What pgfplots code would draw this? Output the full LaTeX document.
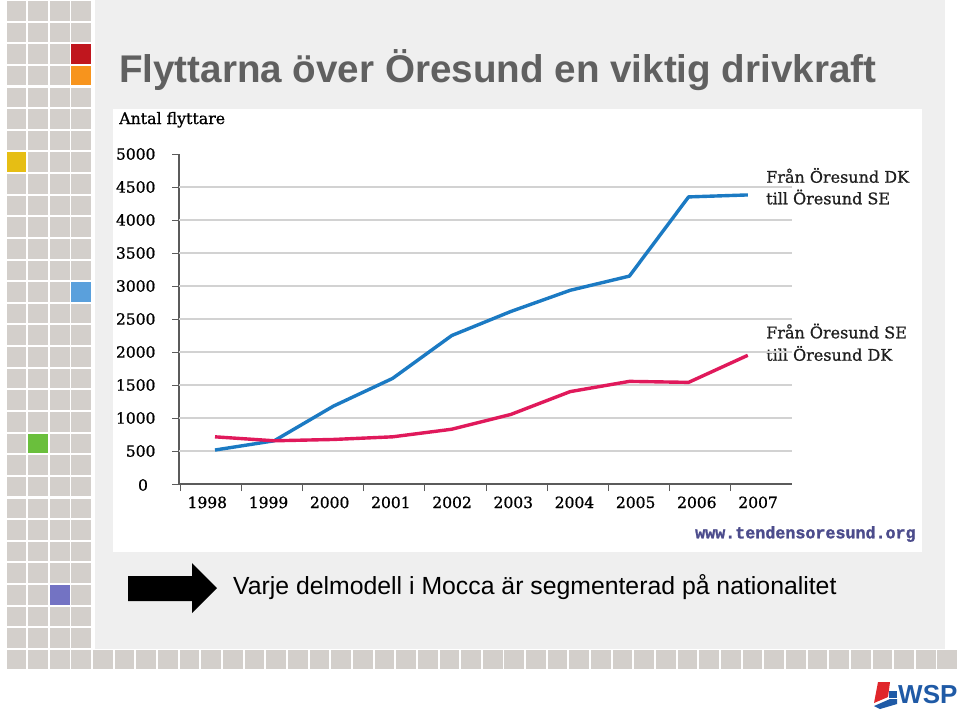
\documentclass[border=0pt]{standalone}
\usepackage{pgfplots}
\pgfplotsset{compat=1.18}
\usepackage{fontspec}
\setmainfont{DejaVu Serif}[FakeBold=0.9]
\newfontfamily\sansf{Liberation Sans}
\newfontfamily\monof{Liberation Mono}[FakeBold=1.6]
\definecolor{axisgray}{HTML}{5B5B5B}
\definecolor{gridgray}{HTML}{D2D2D2}
\definecolor{lineblue}{HTML}{1B7AC3}
\definecolor{linered}{HTML}{E0195B}
\definecolor{tile}{HTML}{D3CFCB}
\definecolor{bgg}{HTML}{EFEFEF}
\definecolor{titlegray}{HTML}{606060}
\definecolor{urlc}{HTML}{4C4C8C}
\definecolor{wspblue}{HTML}{1F5AA6}
\definecolor{wspred}{HTML}{E0262B}
\definecolor{tred}{HTML}{C0161E}
\definecolor{torange}{HTML}{F7941D}
\definecolor{tyellow}{HTML}{E6BE14}
\definecolor{tblue}{HTML}{5AA0DC}
\definecolor{tgreen}{HTML}{6ABF3C}
\definecolor{tpurple}{HTML}{7373C3}

\pgfplotstableread{
x y
0 515
1 655
2 1180
3 1600
4 2250
5 2615
6 2935
7 3150
8 4350
9 4380
}\dkse
\pgfplotstableread{
x y
0 715
1 655
2 675
3 715
4 830
5 1055
6 1400
7 1555
8 1540
9 1950
}\sedk

\begin{document}
\begin{tikzpicture}
\begin{scope}[x=1pt,y=-1pt]
\useasboundingbox (0,0) rectangle (960,713);
\fill[white] (0,0) rectangle (960,713);
\fill[bgg] (95,0) rectangle (945,649);
\foreach \c in {0,...,3}{\foreach \r in {0,...,29}{
  \fill[tile] ({6.5+21.65*\c},{21.63*\r+1}) rectangle ({6.5+21.65*\c+19.7},{21.63*\r+20.6});}}
\foreach \c in {0,...,43}{
  \fill[tile] ({6.5+21.65*\c},{21.63*30+1}) rectangle ({6.5+21.65*\c+19.7},{21.63*30+20});}
\fill[tred] ({6.5+21.65*3},{21.63*2+1}) rectangle ++(19.7,19.6);
\fill[torange] ({6.5+21.65*3},{21.63*3+1}) rectangle ++(19.7,19.6);
\fill[tyellow] ({6.5+21.65*0},{21.63*7+1}) rectangle ++(19.7,19.6);
\fill[tblue] ({6.5+21.65*3},{21.63*13+1}) rectangle ++(19.7,19.6);
\fill[tgreen] ({6.5+21.65*1},{21.63*20+1}) rectangle ++(19.7,19.6);
\fill[tpurple] ({6.5+21.65*2},{21.63*27+1}) rectangle ++(19.7,19.6);
\fill[white] (113,109) rectangle (922,552);
\node[anchor=base west, inner sep=0, text=titlegray, font=\sansf\bfseries\fontsize{38.6}{44}\selectfont] at (119,82) {Flyttarna över Öresund en viktig drivkraft};
\node[anchor=base west, inner sep=0, font=\fontsize{15.8}{18}\selectfont] at (119,124) {Antal flyttare};
\node[anchor=base west, inner sep=0, text=black!88, font=\fontsize{16}{18}\selectfont] at (766,182.7) {Från Öresund DK};
\node[anchor=base west, inner sep=0, text=black!88, font=\fontsize{16}{18}\selectfont] at (766,204.3) {till Öresund SE};
\node[anchor=base west, inner sep=0, text=black!88, font=\fontsize{16}{18}\selectfont] at (766,338.3) {Från Öresund SE};
\node[anchor=base west, inner sep=0, text=black!88, font=\fontsize{16}{18}\selectfont] at (766,360.7) {till Öresund DK};
\node[anchor=center, inner sep=0, font=\fontsize{15.5}{18}\selectfont] at (143,485) {0};
\node[anchor=base west, inner sep=0, text=urlc, font=\monof\bfseries\fontsize{16.7}{20}\selectfont] at (695,538.3) {www.tendensoresund.org};
\fill[black] (128,576) -- (192,576) -- (192,563) -- (217,588) -- (192,613) -- (192,601) -- (128,601) -- cycle;
\node[anchor=base west, inner sep=0, font=\sansf\fontsize{24.8}{30}\selectfont] at (233,594) {Varje delmodell i Mocca är segmenterad på nationalitet};
\fill[wspred] (878,682) -- (890,682) -- (888,697) -- (874,703) -- cycle;
\fill[wspblue] (874,706) -- (890,699) -- (897,699) -- (897,704) -- (880,709) -- cycle;
\fill[wspblue] (889,691) -- (897,691) -- (897,698) -- (889,698) -- cycle;
\node[anchor=base west, inner sep=0, text=wspblue, font=\sansf\bfseries\fontsize{26}{30}\selectfont] at (898,703) {WSP};
\end{scope}
\begin{axis}[
  at={(179pt,-484pt)}, anchor=south west,
  scale only axis, width=613pt, height=330pt,
  xmin=-0.608, xmax=9.747, ymin=0, ymax=5000,
  axis x line=bottom, axis y line=left,
  x axis line style={-, draw=axisgray, line width=2.6pt},
  y axis line style={-, draw=axisgray, line width=2pt},
  tick align=outside, major tick length=7pt,
  tick style={draw=axisgray, line width=0.9pt},
  xtick={-0.591,0.443,1.476,2.510,3.544,4.578,5.611,6.645,7.679,8.713},
  xticklabels={1998,1999,2000,2001,2002,2003,2004,2005,2006,2007},
  xticklabel style={xshift=27.3pt, yshift=-2pt},
  ytick={0,500,1000,1500,2000,2500,3000,3500,4000,4500,5000},
  yticklabels={,500,1000,1500,2000,2500,3000,3500,4000,4500,5000},
  yticklabel style={xshift=-13pt},
  extra y ticks={500,1000,1500,2000,2500,3000,3500,4000,4500},
  extra y tick labels={},
  extra y tick style={grid=major},
  major grid style={draw=gridgray, line width=1.2pt},
  tick label style={font=\fontsize{15.5}{18}\selectfont, text=black},
]
\addplot[lineblue, line width=3.4pt, line join=round] table[x=x,y=y] {\dkse};
\addplot[linered, line width=3.4pt, line join=round] table[x=x,y=y] {\sedk};
\end{axis}
\end{tikzpicture}
\end{document}
